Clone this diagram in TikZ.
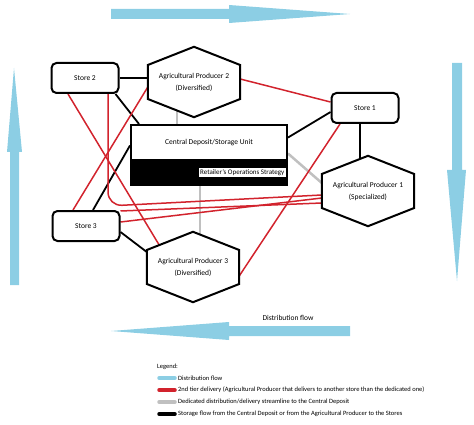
\documentclass[tikz,border=0pt]{standalone}
\usepackage{fontspec}
\setmainfont{Carlito}
\usepackage{tikz}
\usetikzlibrary{calc}
\definecolor{bleuflux}{RGB}{140,206,228}
\definecolor{rouge}{RGB}{210,35,45}
\definecolor{grisclair}{RGB}{192,192,192}
\pgfdeclarelayer{fond}
\pgfdeclarelayer{milieu}
\pgfsetlayers{fond,milieu,main}
\newcommand{\hexagone}[1]{\draw[line width=2pt, fill=white] ([yshift=17pt]#1.west) -- (#1.north) -- ([yshift=17pt]#1.east) -- ([yshift=-17pt]#1.east) -- (#1.south) -- ([yshift=-17pt]#1.west) -- cycle}
\tikzset{
  magasin/.style={draw, line width=2pt, rounded corners=5pt, fill=white, minimum width=67pt, minimum height=30pt, inner sep=0pt, font=\fontsize{7.5}{9}\selectfont},
  producteur/.style={minimum width=92pt, minimum height=70pt, inner sep=0pt, align=center, font=\fontsize{7.5}{12}\selectfont},
  stockage/.style={line width=1.8pt, black},
  livraison/.style={line width=1.5pt, rouge},
  dedie/.style={line width=2.5pt, grisclair},
  flux/.style={fill=bleuflux},
  legende/.style={anchor=west, inner sep=0pt, font=\fontsize{6.5}{8}\selectfont},
  echantillon/.style={line width=3.5pt, line cap=round}
}

\begin{document}
\begin{tikzpicture}[x=1pt, y=-1pt]
                \useasboundingbox (0,0) rectangle (474,425);

                \node[magasin] (store2) at (85,78) {Store 2};
                \node[magasin] (store1) at (365,108) {Store 1};
                \node[magasin] (store3) at (86,226) {Store 3};

                \node[draw, line width=2pt, fill=white, minimum width=156pt, minimum height=35pt, inner sep=0pt, font=\fontsize{7.5}{9}\selectfont] (depot) at (209,142.5) {Central Deposit/Storage Unit};
                \node[draw, line width=2pt, fill=black, minimum width=156pt, minimum height=25pt, inner sep=0pt] (strategie) at (209,172.5) {};
                \node[fill=white, anchor=east, inner sep=1.5pt, font=\fontsize{7}{8}\selectfont] (retail) at ([xshift=-2pt]strategie.east) {Retailer's Operations Strategy};

                \node[producteur] (ap2) at (194,82) {Agricultural Producer 2\\(Diversified)};
                \node[producteur] (ap1) at (368,191) {Agricultural Producer 1\\(Specialized)};
                \node[producteur] (ap3) at (193,267) {Agricultural Producer 3\\(Diversified)};

                \begin{pgfonlayer}{milieu}
                \hexagone{ap2};
                \hexagone{ap1};
                \hexagone{ap3};
                \end{pgfonlayer}

                \begin{pgfonlayer}{fond}
                \draw[stockage] (store2.east) -- (store2.east -| ap2.west);
                \draw[stockage] ([xshift=-4pt]store2.south east) -- ([xshift=9pt]depot.north west);
                \draw[stockage] ([xshift=7pt]store3.north) -- ([yshift=-3pt]depot.west);
                \draw[stockage] ([yshift=-6pt]store3.east) -- ([yshift=15pt]ap3.west);
                \draw[stockage] ([yshift=5pt]depot.east) -- ([yshift=-4pt]store1.west);
                \draw[stockage] ([xshift=-5pt]store1.south) -- ([xshift=-8pt]ap1.center);

                \draw[dedie] ([xshift=-17pt]ap2.center) -- ([xshift=-17pt]ap2.center |- depot.north);
                \draw[dedie] ([yshift=-11pt]depot.east) -- ([yshift=8pt]ap1.west);
                \draw[dedie] ([xshift=-9pt]strategie.south) -- ([xshift=-9pt]strategie.south |- ap3.center);

                \draw[livraison] ([xshift=-17pt]store2.south) -- ([xshift=-32pt,yshift=19pt]ap3.center);
                \draw[livraison, rounded corners=14pt] ([xshift=23pt]store2.south) -- ++(0,112) -- ([yshift=-4pt]ap1.west);
                \draw[livraison] ([yshift=-5pt]ap2.west) -- ([xshift=-13pt]store3.north);
                \draw[livraison] ([yshift=3pt]ap2.east) -- ([yshift=6pt]store1.west);
                \draw[livraison] ([xshift=-25pt]store1.south) -- ([yshift=-9pt]ap3.east);
                \draw[livraison] ([yshift=4pt]store3.east) -- ([yshift=-7pt]ap1.west);
                \draw[livraison] ([yshift=-1pt]store3.north east) -- ([yshift=-12pt]ap1.west);
                \end{pgfonlayer}

                \fill[flux] (111,9) -- (229,9) -- (229,5) -- (350,14) -- (229,23) -- (229,19) -- (111,19) -- cycle;
                \fill[flux] (350,326) -- (229,326) -- (229,322) -- (111,331) -- (229,340) -- (229,336) -- (350,336) -- cycle;
                \fill[flux] (10,285) -- (10,152) -- (7,152) -- (14,68) -- (22,152) -- (19,152) -- (19,285) -- cycle;
                \fill[flux] (452,63) -- (452,170) -- (447,170) -- (457,281) -- (466,170) -- (462,170) -- (462,63) -- cycle;

                \node[font=\fontsize{7.5}{9}\selectfont] (distrib) at (288,318) {Distribution flow};

                \node[legende] (titre) at (157,367) {Legend:};
                \node[legende] (leg1) at (178,378) {Distribution flow};
                \node[legende] (leg2) at (178,390) {2nd tier delivery (Agricultural Producer that delivers to another store than the dedicated one)};
                \node[legende] (leg3) at (178,402) {Dedicated distribution/delivery streamline to the Central Deposit};
                \node[legende] (leg4) at (178,414) {Storage flow from the Central Deposit or from the Agricultural Producer to the Stores};

                \draw[echantillon, bleuflux] ([xshift=-19pt]leg1.west) -- ([xshift=-3pt]leg1.west);
                \draw[echantillon, rouge] ([xshift=-19pt]leg2.west) -- ([xshift=-3pt]leg2.west);
                \draw[echantillon, grisclair] ([xshift=-19pt]leg3.west) -- ([xshift=-3pt]leg3.west);
                \draw[echantillon, black] ([xshift=-19pt]leg4.west) -- ([xshift=-3pt]leg4.west);
\end{tikzpicture}
\end{document}
